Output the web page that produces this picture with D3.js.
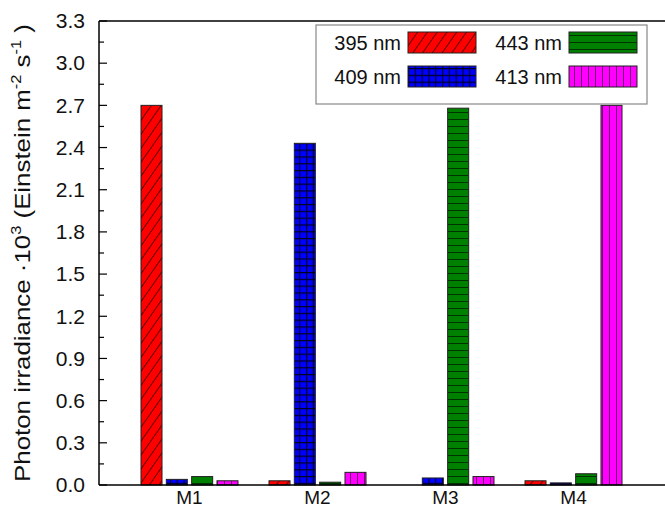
<!DOCTYPE html>
<html>
<head>
<meta charset="utf-8">
<script src="https://cdn.jsdelivr.net/npm/d3@7"></script>
<style>
  html, body { margin: 0; padding: 0; background: #fff; }
  svg { display: block; font-family: Arial, "Liberation Sans", sans-serif; }
</style>
</head>
<body>
<svg id="chart" width="665" height="512"></svg>
<script>
// ---- data ----
const groups = ["M1", "M2", "M3", "M4"];
const seriesNames = ["395 nm", "409 nm", "443 nm", "413 nm"];
const v395 = [2.70, 0.03, 0.00, 0.03];
const v409 = [0.04, 2.43, 0.05, 0.015];
const v443 = [0.06, 0.02, 2.68, 0.08];
const v413 = [0.03, 0.09, 0.06, 2.70];
const yTicks = [0.0, 0.3, 0.6, 0.9, 1.2, 1.5, 1.8, 2.1, 2.4, 2.7, 3.0, 3.3];
const seriesValues = [v395, v409, v443, v413];
const colors = ["#ff0000", "#0000ff", "#008000", "#ff00ff"];
const patternIds = ["pDiag", "pGrid", "pHoriz", "pVert"];

const svg = d3.select("#chart");
const pLeft = 99, pTop = 21, pBottom = 485, pRight = 664;

const x0 = d3.scaleBand().domain(groups).range([pLeft, pRight])
  .paddingInner(0.242).paddingOuter(0.328);
const x1 = d3.scaleBand().domain(d3.range(4)).range([0, x0.bandwidth()])
  .paddingInner(0.17).paddingOuter(0);
const y = d3.scaleLinear().domain([0, 3.3]).range([pBottom, pTop]);

// ---- patterns ----
const defs = svg.append("defs");
function mkPattern(id, color, w, h, transform, drawFn) {
  const p = defs.append("pattern").attr("id", id)
    .attr("patternUnits", "userSpaceOnUse").attr("width", w).attr("height", h);
  if (transform) p.attr("patternTransform", transform);
  p.append("rect").attr("width", w).attr("height", h).attr("fill", color);
  drawFn(p);
}
mkPattern("pDiag", colors[0], 8, 8, "rotate(35)", p => {
  p.append("line").attr("x1", 0).attr("y1", 0).attr("x2", 0).attr("y2", 8)
    .attr("stroke", "#3a0000").attr("stroke-width", 1.6);
});
mkPattern("pGrid", colors[1], 6.8, 6.8, null, p => {
  p.append("path").attr("d", "M0,0H6.8M0,0V6.8")
    .attr("stroke", "#000020").attr("stroke-width", 2.2).attr("fill", "none");
});
mkPattern("pHoriz", colors[2], 8, 7, null, p => {
  p.append("line").attr("x1", 0).attr("y1", 0).attr("x2", 8).attr("y2", 0)
    .attr("stroke", "#002000").attr("stroke-width", 1.6);
});
mkPattern("pVert", colors[3], 7, 8, null, p => {
  p.append("line").attr("x1", 0).attr("y1", 0).attr("x2", 0).attr("y2", 8)
    .attr("stroke", "#300030").attr("stroke-width", 1.4);
});

// ---- bars ----
const g = svg.append("g");
groups.forEach((grp, gi) => {
  seriesValues.forEach((vals, si) => {
    const v = vals[gi];
    if (v <= 0) return;
    g.append("rect")
      .attr("x", x0(grp) + x1(si))
      .attr("y", y(v))
      .attr("width", x1.bandwidth())
      .attr("height", y(0) - y(v))
      .attr("fill", `url(#${patternIds[si]})`)
      .attr("stroke", "#222")
      .attr("stroke-width", 1);
  });
});

// ---- axes ----
const yAxis = d3.axisLeft(y).tickValues(yTicks).tickFormat(d3.format(".1f")).tickSize(0).tickPadding(14);
const ya = svg.append("g").attr("transform", `translate(${pLeft},0)`).call(yAxis);
ya.select(".domain").remove();
ya.selectAll("text").attr("font-size", 21).attr("fill", "#111")
  .attr("font-family", "Arial, 'Liberation Sans', sans-serif");

// inward ticks (major + minor)
const tickG = svg.append("g");
yTicks.forEach(t => {
  tickG.append("line").attr("x1", pLeft).attr("x2", pLeft + 8)
    .attr("y1", y(t)).attr("y2", y(t)).attr("stroke", "#000").attr("stroke-width", 1.2);
  if (t < 3.3) {
    const m = t + 0.15;
    tickG.append("line").attr("x1", pLeft).attr("x2", pLeft + 5)
      .attr("y1", y(m)).attr("y2", y(m)).attr("stroke", "#000").attr("stroke-width", 1.2);
  }
});

const xAxis = d3.axisBottom(x0).tickSize(0).tickPadding(6);
const xa = svg.append("g").attr("transform", `translate(0,${pBottom})`).call(xAxis);
xa.select(".domain").remove();
xa.selectAll("text").attr("font-size", 19).attr("fill", "#111")
  .attr("font-family", "Arial, 'Liberation Sans', sans-serif");

// frame lines
svg.append("line").attr("x1", pLeft).attr("x2", 665).attr("y1", pBottom).attr("y2", pBottom)
  .attr("stroke", "#000").attr("stroke-width", 1.5);
svg.append("line").attr("x1", pLeft).attr("x2", 665).attr("y1", pTop).attr("y2", pTop)
  .attr("stroke", "#000").attr("stroke-width", 1.5);
svg.append("line").attr("x1", pLeft).attr("x2", pLeft).attr("y1", pTop).attr("y2", pBottom)
  .attr("stroke", "#000").attr("stroke-width", 1.5);

// ---- y title ----
const ytG = svg.append("g");
const yt = ytG.append("text")
  .attr("text-anchor", "middle").attr("font-size", 22).attr("fill", "#111");
yt.append("tspan").text("Photon irradiance \u00B710");
yt.append("tspan").attr("dy", -9).attr("font-size", 14).text("3");
yt.append("tspan").attr("dy", 9).text(" (Einstein m");
yt.append("tspan").attr("dy", -9).attr("font-size", 14).text("-2");
yt.append("tspan").attr("dy", 9).text(" s");
yt.append("tspan").attr("dy", -9).attr("font-size", 14).text("-1");
yt.append("tspan").attr("dy", 9).text(" )");
const titleLen = yt.node().getBBox().width;
const sx = 458 / titleLen;
ytG.attr("transform", `translate(30,253) rotate(-90) scale(${sx},1)`);

// ---- legend ----
const lg = svg.append("g");
lg.append("rect").attr("x", 316).attr("y", 25).attr("width", 331).attr("height", 79)
  .attr("fill", "#fff").attr("stroke", "#888").attr("stroke-width", 1.2);
const legPos = [
  { tx: 401, sx: 408, sy: 32 },
  { tx: 401, sx: 408, sy: 66 },
  { tx: 562, sx: 569, sy: 32 },
  { tx: 562, sx: 569, sy: 66 }
];
seriesNames.forEach((name, i) => {
  const p = legPos[i];
  lg.append("text").attr("x", p.tx).attr("y", p.sy + 18).attr("text-anchor", "end")
    .attr("font-size", 20).attr("fill", "#111").text(name);
  lg.append("rect").attr("x", p.sx).attr("y", p.sy).attr("width", 68).attr("height", 21)
    .attr("fill", `url(#${patternIds[i]})`).attr("stroke", "#222").attr("stroke-width", 1);
});
</script>
</body>
</html>
